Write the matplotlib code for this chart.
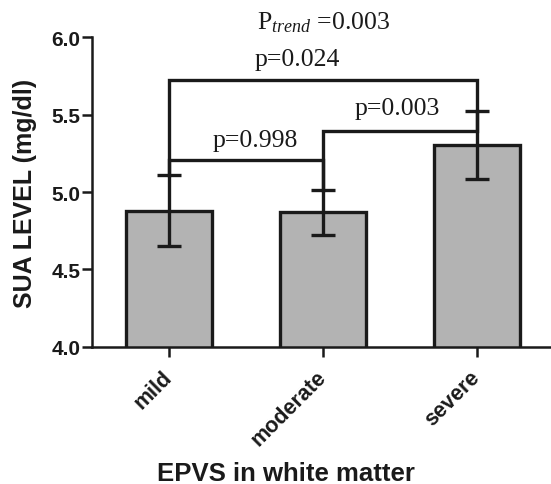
import matplotlib
matplotlib.use("Agg")
from matplotlib import pyplot as plt
import numpy as np

# values
categories = ["mild", "moderate", "severe"]
means = [4.88, 4.87, 5.305]
errors = [0.23, 0.145, 0.22]

# pairwise comparisons (bar index pairs), bracket heights and labels
pairs = [(0, 1), (1, 2), (0, 2)]
bracket_heights = [5.21, 5.396, 5.727]
p_labels = ["p=0.998", "p=0.003", "p=0.024"]
trend_label = r"P$_{\mathit{trend}}$ =0.003"

plt.rcParams["mathtext.fontset"] = "custom"
plt.rcParams["mathtext.rm"] = "Liberation Serif"
plt.rcParams["mathtext.it"] = "Liberation Serif:italic"

ink = "#1a1a1a"

fig = plt.figure(figsize=(5.51, 4.85), dpi=100)
ax = fig.add_axes([0.167, 0.283, 0.833, 0.638])

x = np.arange(len(categories))
ax.bar(x, means, width=0.56, bottom=0, color="#b3b3b3", edgecolor=ink,
       linewidth=2.4, zorder=2)
ax.errorbar(x, means, yerr=errors, fmt="none", ecolor=ink, elinewidth=2.4,
            capsize=8.6, capthick=2.4, zorder=3)

# brackets: legs go down to the top of each error bar
tops = [m + e for m, e in zip(means, errors)]
for (a, b), h in zip(pairs, bracket_heights):
    ax.plot([x[a], x[a], x[b], x[b]], [tops[a], h, h, tops[b]], color=ink,
            lw=2.4, solid_joinstyle="miter", zorder=4, clip_on=False)

# label placement (x in bar units, baseline in data units)
label_x = [0.56, 1.48, 0.83]
label_y = [5.297, 5.504, 5.821]
for lx, ly, txt in zip(label_x, label_y, p_labels):
    ax.text(lx, ly, txt, ha="center", va="baseline", fontsize=18.5,
            family="Liberation Serif", color=ink, clip_on=False)
ax.text(1.0, 6.058, trend_label, ha="center", va="baseline", fontsize=18.5,
        family="Liberation Serif", color=ink, clip_on=False)

ax.set_xlim(-0.5, 2.48)
ax.set_ylim(4.0, 6.0)
ax.set_yticks([4.0, 4.5, 5.0, 5.5, 6.0])
ax.set_yticklabels(["4.0", "4.5", "5.0", "5.5", "6.0"])
ax.set_xticks(x)
ax.set_xticklabels(categories, rotation=45, ha="right", va="center",
                   rotation_mode="anchor")

for side in ["top", "right"]:
    ax.spines[side].set_visible(False)
for side in ["left", "bottom"]:
    ax.spines[side].set_linewidth(1.8)
    ax.spines[side].set_color(ink)

ax.tick_params(axis="both", length=7.5, width=1.8, color=ink)
ax.tick_params(axis="y", pad=1)
ax.tick_params(axis="x", pad=12)
for lab in ax.get_yticklabels():
    lab.set_family("Liberation Sans")
    lab.set_fontweight("bold")
    lab.set_fontsize(15)
    lab.set_color(ink)
for lab in ax.get_xticklabels():
    lab.set_family("Liberation Sans")
    lab.set_fontweight("bold")
    lab.set_fontsize(15.5)
    lab.set_color(ink)

ax.set_ylabel("SUA LEVEL (mg/dl)", family="Liberation Sans", fontweight="bold",
              fontsize=18, color=ink, labelpad=10)
ax.set_xlabel("EPVS in white matter", family="Liberation Sans",
              fontweight="bold", fontsize=18.5, color=ink)
ax.xaxis.set_label_coords(0.4216, -0.368)

fig.savefig("out.png", dpi=100)
